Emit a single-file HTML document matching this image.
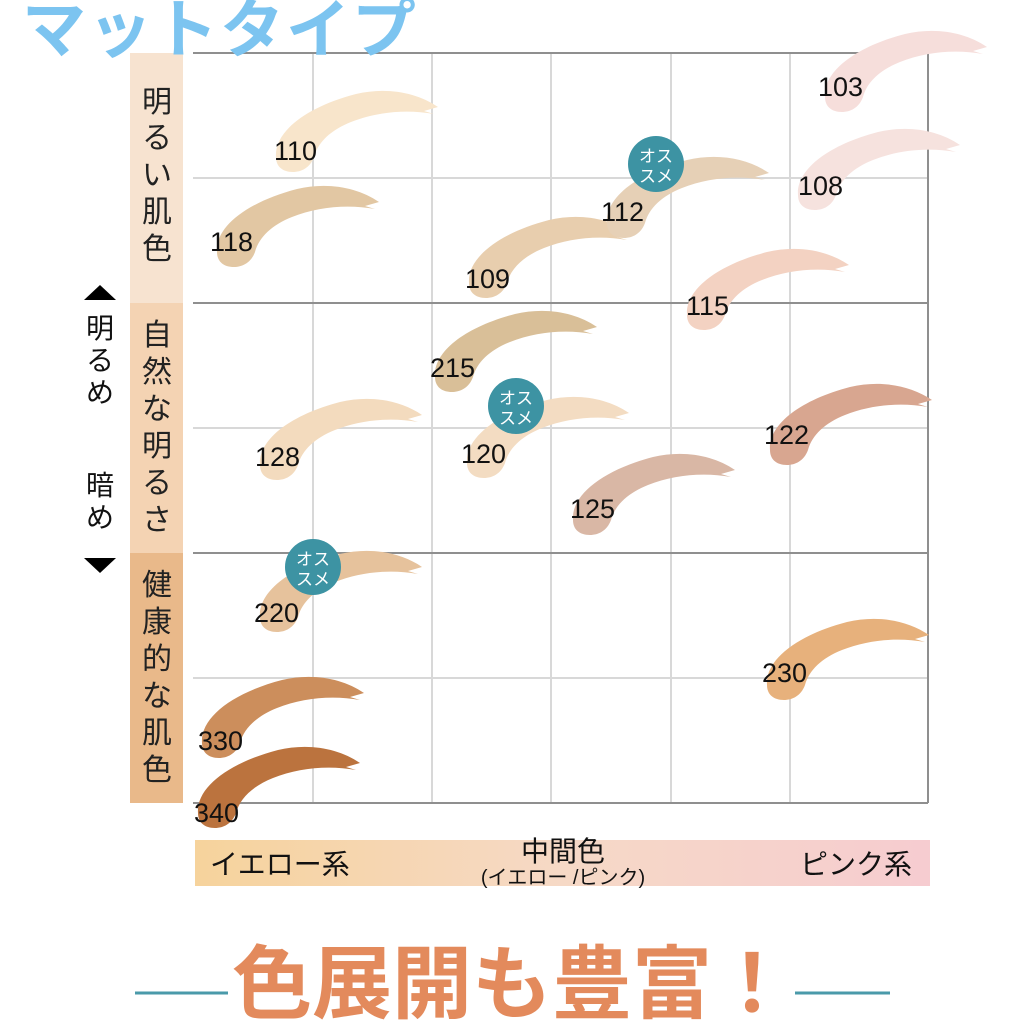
<!DOCTYPE html>
<html><head><meta charset="utf-8"><style>
body{margin:0;width:1024px;height:1025px;background:#fff;overflow:hidden;font-family:"Liberation Sans","Noto Sans CJK JP",sans-serif;}
svg{position:absolute;left:0;top:0}
</style></head><body>
<svg width="1024" height="1025" viewBox="0 0 1024 1025" xmlns="http://www.w3.org/2000/svg">
<defs>
<path id="sw" d="M -20,5 C -22,-20 10,-45 60,-58 C 90,-65 120,-60 142,-45 L 128,-41 L 138,-38 C 110,-43 80,-40 55,-30 C 35,-22 22,-10 18,5 C 14,16 5,20 -3,20 C -14,20 -20,14 -20,5 Z"/>
<linearGradient id="ax" x1="0" x2="1" y1="0" y2="0">
<stop offset="0" stop-color="#f6d39c"/><stop offset="0.5" stop-color="#f6d9c6"/><stop offset="1" stop-color="#f6ccd0"/>
</linearGradient>
</defs>
<rect x="130" y="53" width="53" height="250" fill="#f7e3d0"/>
<rect x="130" y="303" width="53" height="250" fill="#f4d3b3"/>
<rect x="130" y="553" width="53" height="250" fill="#e9b98a"/>
<g stroke="#d8d8d8" stroke-width="2">
<line x1="313" y1="53" x2="313" y2="803"/><line x1="432" y1="53" x2="432" y2="803"/>
<line x1="551" y1="53" x2="551" y2="803"/><line x1="671" y1="53" x2="671" y2="803"/>
<line x1="790" y1="53" x2="790" y2="803"/>
<line x1="193" y1="178" x2="928" y2="178"/><line x1="193" y1="428" x2="928" y2="428"/><line x1="193" y1="678" x2="928" y2="678"/>
</g>
<g stroke="#8f8f8f" stroke-width="2">
<line x1="193" y1="53" x2="928" y2="53"/><line x1="193" y1="303" x2="928" y2="303"/>
<line x1="193" y1="553" x2="928" y2="553"/><line x1="193" y1="803" x2="928" y2="803"/>
<line x1="928" y1="53" x2="928" y2="803"/>
</g>
<text x="22" y="52" font-size="64" font-weight="bold" fill="#7cc4f0" style="letter-spacing:2px">マットタイプ</text>
<g>
<use href="#sw" transform="translate(296,152)" fill="#f8e5cb"/>
<use href="#sw" transform="translate(237,247)" fill="#e2c7a3"/>
<use href="#sw" transform="translate(489,278)" fill="#e8ceae"/>
<use href="#sw" transform="translate(627,218)" fill="#e6d0b6"/>
<use href="#sw" transform="translate(845,92)" fill="#f6dedb"/>
<use href="#sw" transform="translate(818,190)" fill="#f6e2de"/>
<use href="#sw" transform="translate(707,310)" fill="#f3d2c2"/>
<use href="#sw" transform="translate(455,372)" fill="#d9bf98"/>
<use href="#sw" transform="translate(487,458)" fill="#f3dcc2"/>
<use href="#sw" transform="translate(280,460)" fill="#f3dbbe"/>
<use href="#sw" transform="translate(593,515)" fill="#d9b7a5"/>
<use href="#sw" transform="translate(790,445)" fill="#d8a690"/>
<use href="#sw" transform="translate(280,612)" fill="#e6c29c"/>
<use href="#sw" transform="translate(787,680)" fill="#e7b17c"/>
<use href="#sw" transform="translate(222,738)" fill="#cc8e5c"/>
<use href="#sw" transform="translate(218,808)" fill="#bb733e"/>
</g>
<g font-size="27" fill="#111">
<text x="274" y="160">110</text><text x="210" y="251">118</text><text x="465" y="288">109</text>
<text x="601" y="221">112</text><text x="818" y="96">103</text><text x="798" y="195">108</text>
<text x="686" y="315">115</text><text x="430" y="377">215</text><text x="461" y="463">120</text>
<text x="255" y="466">128</text><text x="570" y="518">125</text><text x="764" y="444">122</text>
<text x="254" y="622">220</text><text x="762" y="682">230</text><text x="198" y="750">330</text>
<text x="194" y="822">340</text>
</g>
<g>
<circle cx="656" cy="164" r="28" fill="#3d93a3"/>
<circle cx="516" cy="406" r="28" fill="#3d93a3"/>
<circle cx="313" cy="567" r="28" fill="#3d93a3"/>
</g>
<g font-size="17" fill="#fff" text-anchor="middle">
<text x="656" y="162">オス</text><text x="656" y="182">スメ</text>
<text x="516" y="404">オス</text><text x="516" y="424">スメ</text>
<text x="313" y="565">オス</text><text x="313" y="585">スメ</text>
</g>
<g font-size="30" fill="#222" text-anchor="middle">
<text x="157" y="112">明</text><text x="157" y="148">る</text><text x="157" y="185">い</text><text x="157" y="222">肌</text><text x="157" y="259">色</text>
<text x="157" y="345">自</text><text x="157" y="382">然</text><text x="157" y="419">な</text><text x="157" y="456">明</text><text x="157" y="493">る</text><text x="157" y="530">さ</text>
<text x="157" y="595">健</text><text x="157" y="632">康</text><text x="157" y="669">的</text><text x="157" y="706">な</text><text x="157" y="743">肌</text><text x="157" y="780">色</text>
</g>
<g font-size="28" fill="#111" text-anchor="middle">
<polygon points="100,285 84,300 116,300" fill="#000"/>
<text x="100" y="338">明</text><text x="100" y="370">る</text><text x="100" y="402">め</text>
<text x="100" y="495">暗</text><text x="100" y="527">め</text>
<polygon points="84,558 116,558 100,573" fill="#000"/>
</g>
<rect x="195" y="840" width="735" height="46" fill="url(#ax)"/>
<g fill="#111">
<text x="210" y="874" font-size="28">イエロー系</text>
<text x="563" y="861" font-size="28" text-anchor="middle">中間色</text>
<text x="563" y="884" font-size="20" text-anchor="middle">(イエロー /ピンク)</text>
<text x="912" y="874" font-size="28" text-anchor="end">ピンク系</text>
</g>
<line x1="135" y1="993" x2="228" y2="993" stroke="#4a9aaa" stroke-width="3"/>
<line x1="795" y1="993" x2="890" y2="993" stroke="#4a9aaa" stroke-width="3"/>
<text x="512" y="1012" font-size="80" font-weight="bold" fill="#e38a5c" text-anchor="middle">色展開も豊富！</text>
</svg>
</body></html>
